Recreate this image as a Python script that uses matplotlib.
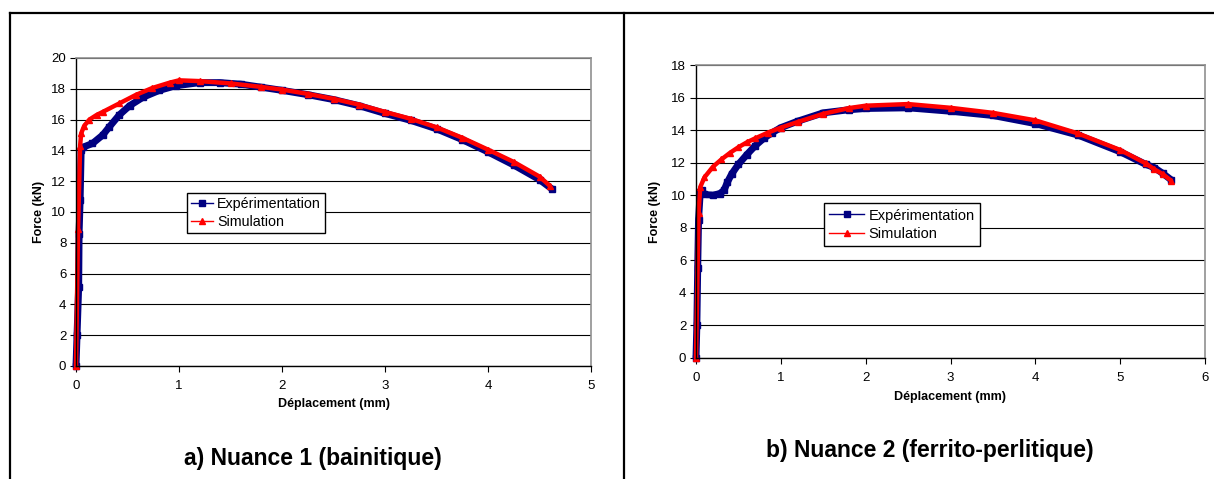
import matplotlib.pyplot as plt
from matplotlib.lines import Line2D

plt.rcParams['font.family'] = ['Liberation Sans', 'DejaVu Sans']

# Nuance 1 (bainitique)
exp1_x = [0, 0.01, 0.026, 0.03, 0.04, 0.05, 0.065, 0.16, 0.26, 0.32, 0.42, 0.52, 0.65, 0.81, 0.97,
          1.2, 1.4, 1.6, 1.8, 2.0, 2.25, 2.5, 2.75, 3.0, 3.25, 3.5, 3.75, 4.0, 4.25, 4.5, 4.62]
exp1_y = [0, 2.0, 5.15, 8.6, 10.8, 14.0, 14.2, 14.45, 15.0, 15.5, 16.3, 16.9, 17.45, 17.9, 18.2,
          18.4, 18.4, 18.3, 18.1, 17.9, 17.62, 17.3, 16.9, 16.4, 15.95, 15.4, 14.7, 13.9, 13.05, 12.1, 11.5]
sim1_x = [0, 0.02, 0.04, 0.05, 0.08, 0.13, 0.2, 0.26, 0.42, 0.58, 0.74, 0.91, 1.0,
          1.2, 1.5, 1.8, 2.0, 2.25, 2.5, 2.75, 3.0, 3.25, 3.5, 3.75, 4.0, 4.25, 4.5, 4.6]
sim1_y = [0, 8.9, 14.3, 15.1, 15.6, 16.0, 16.3, 16.5, 17.05, 17.6, 18.05, 18.4, 18.55,
          18.5, 18.35, 18.12, 17.95, 17.67, 17.35, 16.97, 16.5, 16.05, 15.5, 14.82, 14.05, 13.25, 12.3, 11.7]

# Nuance 2 (ferrito-perlitique)
exp2_x = [0, 0.01, 0.02, 0.03, 0.05, 0.07, 0.1, 0.2, 0.28, 0.33, 0.37, 0.42, 0.5, 0.6, 0.7, 0.8, 0.9, 1.0,
          1.2, 1.5, 1.8, 2.0, 2.5, 3.0, 3.5, 4.0, 4.5, 5.0, 5.3, 5.4, 5.5, 5.6]
exp2_y = [0, 2.0, 5.5, 8.5, 10.2, 10.3, 10.05, 10.0, 10.1, 10.3, 10.8, 11.3, 11.9, 12.5, 13.05, 13.5, 13.85, 14.15,
          14.55, 15.06, 15.25, 15.33, 15.37, 15.16, 14.9, 14.4, 13.7, 12.67, 11.9, 11.7, 11.35, 10.95]
sim2_x = [0, 0.03, 0.05, 0.1, 0.2, 0.3, 0.4, 0.5, 0.6, 0.7, 0.85, 1.0,
          1.2, 1.5, 1.8, 2.0, 2.5, 3.0, 3.5, 4.0, 4.5, 5.0, 5.3, 5.4, 5.5, 5.6]
sim2_y = [0, 8.9, 10.5, 11.1, 11.75, 12.2, 12.6, 12.95, 13.25, 13.5, 13.85, 14.15,
          14.5, 15.0, 15.35, 15.5, 15.6, 15.37, 15.06, 14.6, 13.8, 12.78, 11.96, 11.6, 11.3, 10.9]

navy = '#000080'
red = '#FF0000'

fig = plt.figure(figsize=(12.14, 4.79), dpi=100)

W, H = 1214, 479


def px_axes(x0, x1, ytop, ybot):
    return fig.add_axes([x0 / W, 1 - ybot / H, (x1 - x0) / W, (ybot - ytop) / H])


def style(ax, xmax, ymax, ystep):
    ax.set_xlim(0, xmax)
    ax.set_ylim(0, ymax)
    ax.set_xticks(range(0, xmax + 1))
    ax.set_yticks(range(0, ymax + 1, ystep))
    ax.grid(axis='y', color='black', linewidth=0.8)
    ax.set_axisbelow(True)
    for s in ['top', 'right']:
        ax.spines[s].set_color('#909090')
        ax.spines[s].set_linewidth(1.2)
    for s in ['left', 'bottom']:
        ax.spines[s].set_color('black')
        ax.spines[s].set_linewidth(1.0)
    ax.tick_params(direction='out', length=4, width=0.8, labelsize=9.5, colors='black')
    ax.tick_params(axis='x', pad=6)
    ax.tick_params(axis='y', pad=3)
    ax.set_xlabel('Déplacement (mm)', fontsize=9, fontweight='bold')
    ax.set_ylabel('Force (kN)', fontsize=9, fontweight='bold')


def curves(ax, ex, ey, sx, sy):
    ax.plot(ex, ey, color=navy, lw=5, marker='s', ms=4.5, clip_on=False,
            solid_capstyle='round', solid_joinstyle='round')
    ax.plot(sx, sy, color=red, lw=3.2, marker='^', ms=4, clip_on=False,
            solid_capstyle='round', solid_joinstyle='round')


handles = [Line2D([], [], color=navy, lw=1, marker='s', ms=4),
           Line2D([], [], color=red, lw=1, marker='^', ms=4)]
labels = ['Expérimentation', 'Simulation']

# left chart
ax1 = px_axes(76, 591, 58, 366)
curves(ax1, exp1_x, exp1_y, sim1_x, sim1_y)
style(ax1, 5, 20, 2)
ax1.xaxis.set_label_coords(0.5, -0.105)
ax1.yaxis.set_label_coords(-0.06, 0.5)
leg1 = ax1.legend(handles, labels, loc='lower left', bbox_to_anchor=(0.2155, 0.432), borderaxespad=0,
                  fontsize=10.3, frameon=True, fancybox=False, handlelength=1.5, handletextpad=0.3,
                  labelspacing=0.25, borderpad=0.3)
leg1.get_frame().set_edgecolor('black')
leg1.get_frame().set_linewidth(1.0)
leg1.get_frame().set_alpha(1)

# right chart
ax2 = px_axes(696, 1205, 65, 358)
curves(ax2, exp2_x, exp2_y, sim2_x, sim2_y)
style(ax2, 6, 18, 2)
ax2.xaxis.set_label_coords(0.5, -0.112)
ax2.yaxis.set_label_coords(-0.068, 0.5)
leg2 = ax2.legend(handles, labels, loc='lower left', bbox_to_anchor=(0.2515, 0.382), borderaxespad=0,
                  fontsize=10.5, frameon=True, fancybox=False, handlelength=2.4, handletextpad=0.3,
                  labelspacing=0.3, borderpad=0.35)
leg2.get_frame().set_edgecolor('black')
leg2.get_frame().set_linewidth(1.0)
leg2.get_frame().set_alpha(1)

# captions
fig.text(313 / W, 1 - 458 / H, 'a) Nuance 1 (bainitique)', ha='center', va='center',
         fontsize=16.5, fontweight='bold')
fig.text(930 / W, 1 - 450 / H, 'b) Nuance 2 (ferrito-perlitique)', ha='center', va='center',
         fontsize=16.5, fontweight='bold')

# table frame
frame = dict(color='black', lw=1.6, transform=fig.transFigure)
fig.add_artist(Line2D([10 / W, 1], [1 - 13 / H, 1 - 13 / H], **frame))
fig.add_artist(Line2D([10 / W, 10 / W], [0, 1 - 13 / H], **frame))
fig.add_artist(Line2D([624 / W, 624 / W], [0, 1 - 13 / H], **frame))

fig.savefig('out.png', dpi=100)
